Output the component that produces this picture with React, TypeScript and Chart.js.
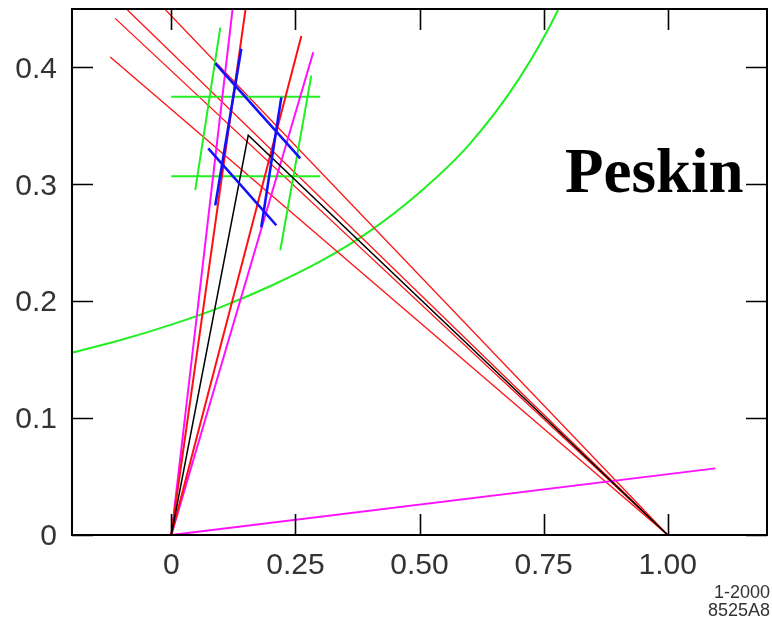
import React, { useEffect, useRef } from "react";
import { Chart, registerables } from "chart.js";

Chart.register(...registerables);

// Axis ticks
const rhoTicks = [0, 0.25, 0.5, 0.75, 1.0];
const rhoTickLabels = ["0", "0.25", "0.50", "0.75", "1.00"];
const etaTicks = [0, 0.1, 0.2, 0.3, 0.4];
const etaTickLabels = ["0", "0.1", "0.2", "0.3", "0.4"];

// Central unitarity triangle (black)
const triangleRho = [0, 0.155, 1.0];
const triangleEta = [0, 0.342, 0];

// Lines through (1,0) (red)
const betaLineA = { rho: [1.0, -0.113], eta: [0, 0.442] };
const betaLineB = { rho: [1.0, -0.1], eta: [0, 0.454] };
const betaLineC = { rho: [1.0, -0.123], eta: [0, 0.409] };
const betaLineD = { rho: [1.0, -0.02], eta: [0, 0.453] };

// Rays from (0,0)
const rayMagentaLeft = { rho: [0, 0.132], eta: [0, 0.481] };
const rayRedLeft = { rho: [0, 0.158], eta: [0, 0.475] };
const rayRedRight = { rho: [0, 0.262], eta: [0, 0.427] };
const rayMagentaRight = { rho: [0, 0.286], eta: [0, 0.413] };
const rayMagentaLow = { rho: [0, 1.096], eta: [0, 0.057] };

// Green constraints
const greenSteepLeft = { rho: [0.0987, 0.0483], eta: [0.434, 0.295] };
const greenSteepRight = { rho: [0.282, 0.2196], eta: [0.393, 0.2436] };
const greenHorizUpper = { rho: [0, 0.3], eta: [0.375, 0.375] };
const greenHorizLower = { rho: [0, 0.3], eta: [0.307, 0.307] };

// Green hyperbola
const hyperbolaRho = [-0.2, -0.1, 0, 0.1, 0.2, 0.3, 0.4, 0.5, 0.6, 0.7, 0.78, 0.82];
const hyperbolaEta = [0.156, 0.167, 0.18, 0.195, 0.213, 0.234, 0.26, 0.293, 0.334, 0.39, 0.45, 0.49];

// Blue error box
const blueUpper = { rho: [0.0886, 0.2599], eta: [0.4034, 0.3222] };
const blueLower = { rho: [0.0745, 0.2115], eta: [0.3308, 0.265] };
const blueLeft = { rho: [0.141, 0.0886], eta: [0.416, 0.282] };
const blueRight = { rho: [0.2216, 0.1813], eta: [0.3744, 0.2632] };

const RED = "#ff1010";
const MAGENTA = "#ff10ff";
const GREEN = "#20f020";
const BLUE = "#1010ff";

function pts(rho: number[], eta: number[]) {
  return rho.map((r, i) => ({ x: r, y: eta[i] }));
}

function seg(s: { rho: number[]; eta: number[] }, color: string, width: number) {
  return {
    data: pts(s.rho, s.eta),
    borderColor: color,
    backgroundColor: color,
    borderWidth: width,
    showLine: true,
    pointRadius: 0,
    fill: false,
  };
}

const framePlugin = {
  id: "framePlugin",
  afterDatasetsDraw(chart: any) {
    const { ctx, chartArea, scales } = chart;
    const { left, right, top, bottom } = chartArea;
    const x = scales.x;
    const y = scales.y;
    ctx.save();
    ctx.strokeStyle = "#000";
    ctx.lineWidth = 2;
    ctx.strokeRect(left, top, right - left, bottom - top);
    ctx.lineWidth = 1.6;
    const tl = 21;
    ctx.beginPath();
    rhoTicks.forEach((v) => {
      const px = Math.round(x.getPixelForValue(v)) + 0.5;
      ctx.moveTo(px, bottom);
      ctx.lineTo(px, bottom - tl);
      ctx.moveTo(px, top);
      ctx.lineTo(px, top + tl);
    });
    etaTicks.forEach((v) => {
      const py = Math.round(y.getPixelForValue(v)) + 0.5;
      ctx.moveTo(left, py);
      ctx.lineTo(left + tl, py);
      ctx.moveTo(right, py);
      ctx.lineTo(right - tl, py);
    });
    ctx.stroke();

    ctx.fillStyle = "#000";
    ctx.font = "bold 63px 'Liberation Serif', 'Times New Roman', serif";
    ctx.textAlign = "left";
    ctx.textBaseline = "alphabetic";
    ctx.fillText("Peskin", 565, 192);

    ctx.fillStyle = "#333";
    ctx.font = "18px 'Liberation Sans', Arial, sans-serif";
    ctx.textAlign = "right";
    ctx.fillText("1-2000", 770, 598);
    ctx.fillText("8525A8", 770, 616);
    ctx.restore();
  },
};

export default function App() {
  const canvasRef = useRef<HTMLCanvasElement | null>(null);

  useEffect(() => {
    document.body.style.margin = "0";
    document.body.style.overflow = "hidden";
    const canvas = canvasRef.current;
    if (!canvas) return;

    const datasets: any[] = [
      seg(blueUpper, BLUE, 2.6),
      seg(blueLower, BLUE, 2.6),
      seg(blueLeft, BLUE, 2.6),
      seg(blueRight, BLUE, 2.6),
      {
        data: pts(triangleRho, triangleEta),
        borderColor: "#000",
        borderWidth: 1.5,
        showLine: true,
        pointRadius: 0,
        fill: false,
      },
      seg(rayRedLeft, RED, 2),
      seg(rayRedRight, RED, 2),
      seg(rayMagentaLeft, MAGENTA, 2),
      seg(rayMagentaRight, MAGENTA, 2),
      seg(rayMagentaLow, MAGENTA, 2),
      seg(greenSteepLeft, GREEN, 2),
      seg(greenSteepRight, GREEN, 2),
      seg(greenHorizUpper, GREEN, 2),
      seg(greenHorizLower, GREEN, 2),
      seg(betaLineA, RED, 1.3),
      seg(betaLineB, RED, 1.3),
      seg(betaLineC, RED, 1.3),
      seg(betaLineD, RED, 1.3),
      {
        data: pts(hyperbolaRho, hyperbolaEta),
        borderColor: GREEN,
        borderWidth: 2,
        showLine: true,
        pointRadius: 0,
        fill: false,
        cubicInterpolationMode: "monotone",
      },
    ];

    const tickFont = { family: "'Liberation Sans', Arial, sans-serif", size: 30 };

    const chart = new Chart(canvas, {
      type: "scatter",
      data: { datasets },
      options: {
        animation: false,
        responsive: false,
        maintainAspectRatio: false,
        devicePixelRatio: 1,
        layout: { padding: { top: 9, right: 5, left: 0, bottom: 0 } },
        plugins: {
          legend: { display: false },
          tooltip: { enabled: false },
          title: { display: false },
        },
        scales: {
          x: {
            type: "linear",
            min: -0.2,
            max: 1.2,
            grid: { display: false, drawTicks: false },
            border: { display: false },
            afterBuildTicks: (scale: any) => {
              scale.ticks = rhoTicks.map((v) => ({ value: v }));
            },
            afterFit: (scale: any) => {
              scale.height = 86;
              scale.paddingLeft = 0;
              scale.paddingRight = 0;
            },
            ticks: {
              font: tickFont,
              color: "#333",
              padding: 13,
              maxRotation: 0,
              autoSkip: false,
              callback: (value: any) => {
                const i = rhoTicks.indexOf(Number(value));
                return i >= 0 ? rhoTickLabels[i] : "";
              },
            },
          },
          y: {
            type: "linear",
            min: 0,
            max: 0.45,
            grid: { display: false, drawTicks: false },
            border: { display: false },
            afterBuildTicks: (scale: any) => {
              scale.ticks = etaTicks.map((v) => ({ value: v }));
            },
            afterFit: (scale: any) => {
              scale.width = 72;
              scale.paddingTop = 0;
              scale.paddingBottom = 0;
            },
            ticks: {
              font: tickFont,
              color: "#333",
              padding: 15,
              labelOffset: 2,
              autoSkip: false,
              callback: (value: any) => {
                const i = etaTicks.indexOf(Number(value));
                return i >= 0 ? etaTickLabels[i] : "";
              },
            },
          },
        },
      },
      plugins: [framePlugin],
    });

    return () => {
      chart.destroy();
    };
  }, []);

  return (
    <div style={{ width: 772, height: 621 }}>
      <canvas ref={canvasRef} width={772} height={621} style={{ display: "block" }} />
    </div>
  );
}
